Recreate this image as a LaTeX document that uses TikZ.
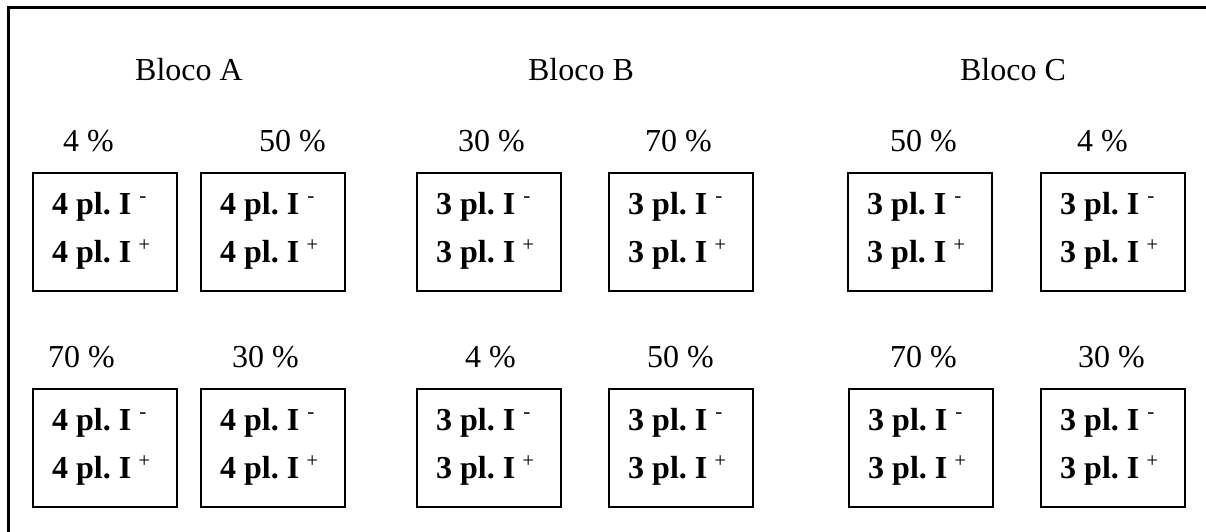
\documentclass[tikz,border=0pt]{standalone}
\usepackage{fontspec}
\setmainfont{Liberation Serif}
\frenchspacing
\tikzset{
  plotbox/.style={draw, line width=2pt, minimum width=144pt, minimum height=118pt, inner sep=0pt, anchor=north west},
  lbl/.style={anchor=base west, inner sep=0pt, font=\fontsize{32}{36}\selectfont},
  blk/.style={anchor=base, inner sep=0pt, font=\fontsize{32}{36}\selectfont},
  ln/.style={anchor=base west, inner sep=0pt, font=\fontsize{32}{36}\selectfont\bfseries},
  frameline/.style={line width=3pt}
}
\newcommand{\supmin}{\raisebox{12pt}{\fontsize{21}{21}\selectfont\mdseries\hspace{8pt}-}}
\newcommand{\supplus}{\raisebox{11pt}{\fontsize{21}{21}\selectfont\mdseries\hspace{7pt}+}}
\begin{document}
\begin{tikzpicture}[x=1pt,y=-1pt]
\useasboundingbox (0,0) rectangle (1206,532);
\coordinate (fbl) at (8,532);
\coordinate (ftl) at (8,8);
\coordinate (ftr) at (1206,8);
\draw[frameline] (fbl) -- (ftl) -- (ftr);
\node[blk] (bA) at (189,81) {Bloco A};
\node[blk] (bB) at (581,81) {Bloco B};
\node[blk] (bC) at (1013,81) {Bloco C};
\foreach \nm/\bx/\by/\n/\pc/\px in {
  a1/32/172/4/4/63, a2/200/172/4/50/259,
  b1/416/172/3/30/458, b2/608/172/3/70/645,
  c1/847/172/3/50/890, c2/1040/172/3/4/1077,
  a3/32/388/4/70/48, a4/200/388/4/30/232,
  b3/416/388/3/4/465, b4/608/388/3/50/647,
  c3/848/388/3/70/890, c4/1040/388/3/30/1078}{
  \node[plotbox] (\nm) at (\bx,\by) {};
  \node[lbl] (\nm p) at (\px,\by-21) {\pc\ \%};
  \node[ln] (\nm m) at (\bx+20,\by+42) {\n\ pl. I\supmin};
  \node[ln] (\nm n) at (\bx+20,\by+90) {\n\ pl. I\supplus};
}
\end{tikzpicture}
\end{document}
